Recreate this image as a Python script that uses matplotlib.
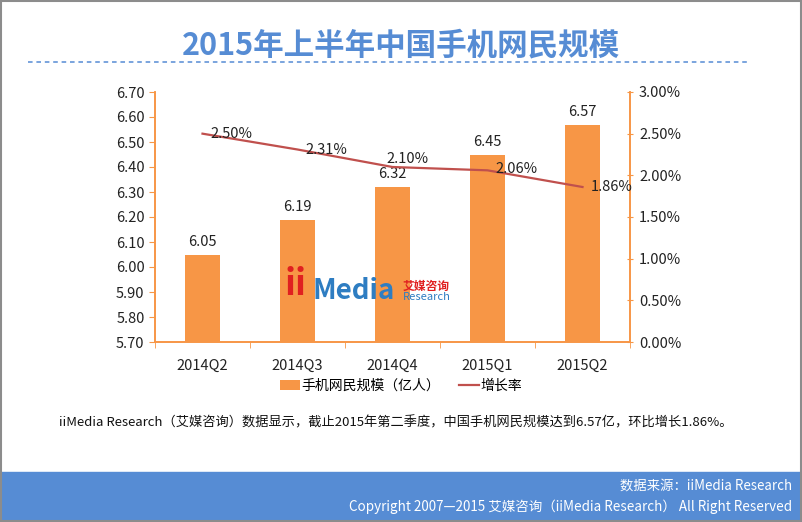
import matplotlib.pyplot as plt
from matplotlib.patches import Rectangle
from matplotlib.legend_handler import HandlerPatch
from matplotlib.ticker import FuncFormatter

plt.rcParams['font.family'] = ['Noto Sans CJK SC', 'DejaVu Sans']

quarters = ['2014Q2', '2014Q3', '2014Q4', '2015Q1', '2015Q2']
users = [6.05, 6.19, 6.32, 6.45, 6.57]
growth = [2.50, 2.31, 2.10, 2.06, 1.86]
# label offsets (points) for the growth labels
growth_offsets = [(5.5, 0), (5.5, 0), (-4.5, 6), (5.5, 1), (6, 0)]

orange = '#F79646'
red = '#C0504D'
blue = '#568CD4'


def square_patch(legend, orig_handle, xdescent, ydescent, width, height, fontsize):
    s = height * 1.1
    return Rectangle((width - s - xdescent, -ydescent - 0.05 * height), s, s)


fig = plt.figure(figsize=(8.02, 5.22), dpi=100)

# border
fig.patches.append(Rectangle((0.001, 0.001), 0.998, 0.998, transform=fig.transFigure,
                             fill=False, edgecolor='#8c8c8c', linewidth=1.5))

# title and dashed rule
fig.text(0.5, 1 - 45 / 522, '2015年上半年中国手机网民规模', ha='center', va='center',
         fontsize=22, fontweight='bold', color=blue)
fig.add_artist(plt.Line2D([28 / 802, 748 / 802], [1 - 62 / 522] * 2, transform=fig.transFigure,
                          color=blue, linestyle=(0, (3, 2.5)), linewidth=1.1))

ax = fig.add_axes([155 / 802, 1 - 342 / 522, 475 / 802, 250 / 522])
x = range(len(quarters))
bars = ax.bar(x, users, width=0.36, color=orange, label='手机网民规模（亿人）', zorder=2)
ax.set_ylim(5.70, 6.70)
ax.set_yticks([5.70 + 0.1 * i for i in range(11)])
ax.yaxis.set_major_formatter(FuncFormatter(lambda v, p: f'{v:.2f}'))
ax.set_xlim(-0.5, len(quarters) - 0.5)
ax.set_xticks(list(x))
ax.set_xticklabels(quarters)
ax.set_xticks([i - 0.5 for i in range(len(quarters) + 1)], minor=True)
for i, v in enumerate(users):
    ax.annotate(f'{v:.2f}', (i, v), xytext=(0, 4), textcoords='offset points',
                ha='center', va='bottom', fontsize=10.5, color='#222222')

ax2 = ax.twinx()
line, = ax2.plot(x, [g / 100 for g in growth], color=red, linewidth=1.6, label='增长率', zorder=3)
ax2.set_ylim(0, 0.03)
ax2.set_yticks([0.005 * i for i in range(7)])
ax2.yaxis.set_major_formatter(FuncFormatter(lambda v, p: f'{v * 100:.2f}%'))
for i, g in enumerate(growth):
    ax2.annotate(f'{g:.2f}%', (i, g / 100), xytext=growth_offsets[i], textcoords='offset points',
                 ha='left', va='center', fontsize=10.5, color='#222222')

for a in (ax, ax2):
    for s in a.spines.values():
        s.set_color(orange)
        s.set_linewidth(1.2)
    a.spines['top'].set_visible(False)
    a.tick_params(axis='y', colors=orange, labelcolor='#222222', labelsize=10.5,
                  direction='inout', length=5)
ax.tick_params(axis='y', direction='out', length=4)
ax.tick_params(axis='x', which='major', length=0, labelsize=10.5, labelcolor='#222222', pad=12)
ax.tick_params(axis='x', which='minor', length=4, color=orange, direction='out')
ax2.tick_params(axis='y', pad=4)

handles = [bars, line]
fig.legend(handles, [h.get_label() for h in handles], loc='center',
           bbox_to_anchor=(401 / 802, 1 - 386 / 522), ncol=2, frameon=False,
           fontsize=10, handlelength=1.4, handletextpad=0.1, columnspacing=1.4,
           handler_map={type(bars.patches[0]): HandlerPatch(patch_func=square_patch)})

# watermark logo
ax.text(0.86, 5.93, 'ii', color='#E02020', fontsize=26, fontweight='bold', ha='left', va='center', zorder=4)
ax.text(1.16, 5.905, 'Media', color='#2E7DC2', fontsize=20, fontweight='bold', ha='left', va='center', zorder=4)
ax.text(2.11, 5.922, '艾媒咨询', color='#E02020', fontsize=8.5, fontweight='bold', ha='left', va='center', zorder=4)
ax.text(2.11, 5.878, 'Research', color='#2E7DC2', fontsize=8, style='italic', ha='left', va='center', zorder=4)

fig.text(396 / 802, 1 - 423 / 522,
         'iiMedia Research（艾媒咨询）数据显示，截止2015年第二季度，中国手机网民规模达到6.57亿，环比增长1.86%。',
         ha='center', va='center', fontsize=9.5, color='#111111')

# footer band
fig.patches.append(Rectangle((0, 0), 1, 50 / 522, transform=fig.transFigure, color=blue, zorder=0))
fig.text(792 / 802, 1 - 486 / 522, '数据来源：iiMedia Research', ha='right', va='center',
         fontsize=9.6, color='white')
fig.text(792 / 802, 1 - 507 / 522, 'Copyright 2007—2015 艾媒咨询（iiMedia Research） All Right Reserved',
         ha='right', va='center', fontsize=9.7, color='white')

fig.savefig('out.png', dpi=100)
